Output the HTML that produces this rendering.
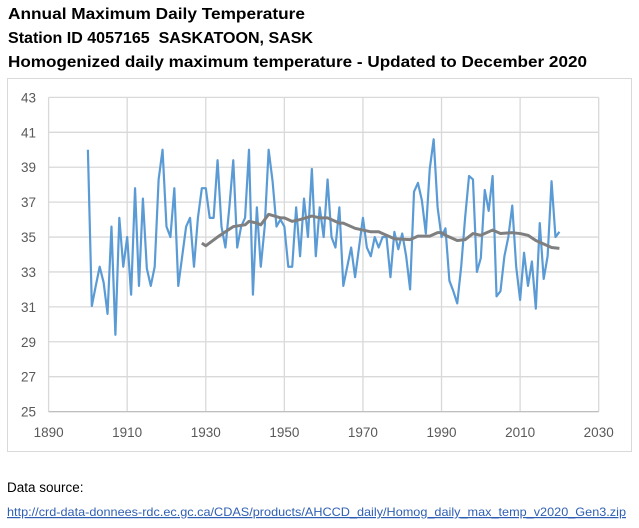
<!DOCTYPE html>
<html><head><meta charset="utf-8"><style>
html,body{margin:0;padding:0;background:#fff;}
svg{display:block;font-family:"Liberation Sans",sans-serif;}
</style></head><body>
<svg id="c" width="639" height="528" viewBox="0 0 639 528">
<text x="8" y="19" font-size="15.5" font-weight="bold" fill="#000" textLength="297" lengthAdjust="spacingAndGlyphs">Annual Maximum Daily Temperature</text>
<text x="8" y="43" font-size="15.5" font-weight="bold" fill="#000" textLength="305" lengthAdjust="spacingAndGlyphs" xml:space="preserve">Station ID 4057165  SASKATOON, SASK</text>
<text x="8" y="67" font-size="15.5" font-weight="bold" fill="#000" textLength="579" lengthAdjust="spacingAndGlyphs">Homogenized daily maximum temperature - Updated to December 2020</text>
<rect x="7.5" y="78.5" width="624" height="373" fill="none" stroke="#d9d9d9"/>
<g id="grid"></g>
<g id="series"></g>
<text x="7" y="492" font-size="13.5" fill="#000">Data source:</text>
<text x="7" y="516" font-size="12" fill="#2f5fb3" text-decoration="underline" textLength="619" lengthAdjust="spacingAndGlyphs">http://crd-data-donnees-rdc.ec.gc.ca/CDAS/products/AHCCD_daily/Homog_daily_max_temp_v2020_Gen3.zip</text>
</svg>
<script>
const years = [];
for (let y = 1900; y <= 2020; y++) years.push(y);
const tmax = [40.0,31.05,32.2,33.3,32.4,30.6,35.6,29.4,36.1,33.3,35.0,31.7,37.8,32.2,37.2,33.2,32.2,33.3,38.3,40.0,35.6,35.0,37.8,32.2,33.9,35.6,36.1,33.3,36.1,37.8,37.8,36.1,36.1,39.4,35.6,34.4,36.7,39.4,34.4,35.6,36.1,40.0,31.7,36.7,33.3,35.6,40.0,38.2,35.6,36.0,35.6,33.3,33.3,36.7,33.9,37.2,35.0,38.9,33.9,36.7,35.0,38.3,35.0,34.4,36.7,32.2,33.3,34.4,32.7,34.4,36.1,34.4,33.9,35.0,34.4,35.0,35.0,32.7,35.3,34.3,35.2,33.9,32.0,37.6,38.1,37.1,35.2,38.9,40.6,36.7,35.0,35.5,32.5,31.9,31.2,33.3,36.1,38.5,38.3,33.0,33.8,37.7,36.5,38.5,31.6,31.9,33.9,35.0,36.8,33.3,31.4,34.1,32.2,33.6,30.9,35.8,32.6,33.9,38.2,35.0,35.3];
const maYears = [1929,1930,1933,1935,1937,1940,1941,1943,1944,1946,1949,1950,1952,1954,1957,1959,1961,1964,1965,1968,1970,1972,1974,1977,1978,1982,1984,1987,1989,1990,1991,1994,1996,1998,2000,2003,2005,2008,2010,2012,2014,2016,2018,2020];
const maValues = [34.65,34.5,35.0,35.3,35.6,35.7,35.9,35.8,35.7,36.3,36.1,36.1,35.9,36.0,36.2,36.1,36.1,35.8,35.8,35.5,35.4,35.3,35.3,35.0,34.9,34.85,35.05,35.05,35.25,35.25,35.1,34.8,34.85,35.2,35.1,35.4,35.2,35.25,35.2,35.1,34.8,34.6,34.4,34.35];
const yTicks = [25,27,29,31,33,35,37,39,41,43];
const xTicks = [1890,1910,1930,1950,1970,1990,2010,2030];

const X0=48.6, X1=598.7, Y0=411.6, Y1=97.4;
const xs = v => X0 + (v-1890)/(2030-1890)*(X1-X0);
const ys = v => Y0 - (v-25)/(43-25)*(Y0-Y1);
const NS='http://www.w3.org/2000/svg';
const grid=document.getElementById('grid'), ser=document.getElementById('series');
function mk(tag, attrs, parent){const e=document.createElementNS(NS,tag);for(const k in attrs)e.setAttribute(k,attrs[k]);parent.appendChild(e);return e;}

yTicks.forEach(t=>{
  const l=mk('line',{x1:X0,x2:X1,y1:ys(t),y2:ys(t),stroke:'#d9d9d9','stroke-width':1.3},grid);
  
  
  const tx=mk('text',{x:36,y:ys(t)+5,'font-size':13.5,fill:'#595959','text-anchor':'end'},grid);
  tx.textContent=t;
  
  
});
xTicks.forEach(t=>{
  const l=mk('line',{x1:xs(t),x2:xs(t),y1:Y1,y2:Y0,stroke:'#d9d9d9','stroke-width':1.3},grid);
  
  
  const tx=mk('text',{x:xs(t),y:437,'font-size':13.5,fill:'#595959','text-anchor':'middle'},grid);
  tx.textContent=t;
  
  
});
const ax=mk('line',{x1:X0,x2:X1,y1:Y0,y2:Y0,stroke:'#bfbfbf','stroke-width':1.3},grid);



const p1=mk('polyline',{points:years.map((y,i)=>xs(y)+','+ys(tmax[i])).join(' '),fill:'none',stroke:'#5b9bd5','stroke-width':2.2,'stroke-linejoin':'round'},ser);


const p2=mk('polyline',{points:maYears.map((y,i)=>xs(y)+','+ys(maValues[i])).join(' '),fill:'none',stroke:'#7f7f7f','stroke-width':3,'stroke-linejoin':'round'},ser);


</script>
</body></html>
